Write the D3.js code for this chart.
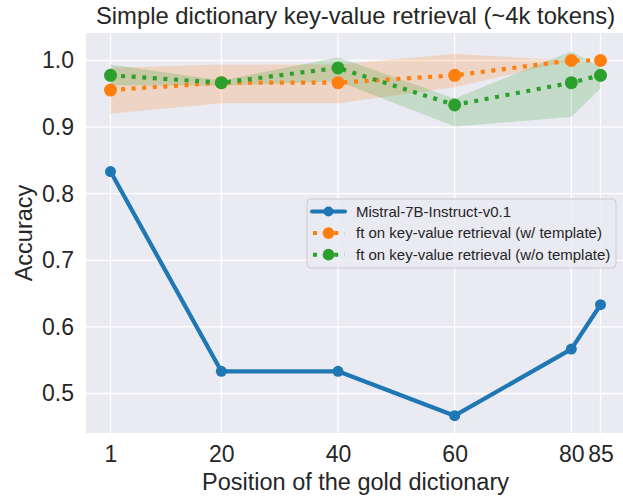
<!DOCTYPE html>
<html>
<head>
<meta charset="utf-8">
<script src="https://cdn.jsdelivr.net/npm/d3@7"></script>
<style>
  body { margin: 0; background: #fff; }
  text { font-family: "Liberation Sans", Arial, sans-serif; fill: #262626; }
</style>
</head>
<body>
<div id="main"></div>
<script>
const W = 623, H = 498;
const margin = {left: 86, top: 33, right: -2, bottom: 65};

// data
const positions = [1, 20, 40, 60, 80, 85];
const xTicks = [1, 20, 40, 60, 80, 85];
const yTicks = [0.5, 0.6, 0.7, 0.8, 0.9, 1.0];

const baseAcc = [0.8333, 0.5333, 0.5333, 0.4667, 0.5667, 0.6333];
const ftTplAcc = [0.9556, 0.9667, 0.9667, 0.9778, 1.0, 1.0];
const ftTplLow = [0.920, 0.936, 0.936, 0.960, 1.0, 1.0];
const ftTplHigh = [0.989, 0.994, 0.994, 1.010, 1.0, 1.0];
const ftNoTplAcc = [0.9778, 0.9667, 0.9889, 0.9333, 0.9667, 0.9778];
const ftNoTplLow = [0.963, 0.962, 0.969, 0.901, 0.915, 0.958];
const ftNoTplHigh = [0.994, 0.970, 1.005, 0.943, 1.014, 0.990];

const series = [
  {name: "Mistral-7B-Instruct-v0.1", color: "#1f77b4", acc: baseAcc, dash: null, r: 5.5},
  {name: "ft on key-value retrieval (w/ template)", color: "#ff7f0e", acc: ftTplAcc, lo: ftTplLow, hi: ftTplHigh, dash: "4,6.6", r: 6.5},
  {name: "ft on key-value retrieval (w/o template)", color: "#2ca02c", acc: ftNoTplAcc, lo: ftNoTplLow, hi: ftNoTplHigh, dash: "4,6.6", r: 6.5}
];

const svg = d3.select("#main").append("svg").attr("width", W).attr("height", H);

const x = d3.scaleLinear().domain([-3.2, 89.2]).range([margin.left, W - margin.right]);
const y = d3.scaleLinear().domain([0.4407, 1.0413]).range([H - margin.bottom, margin.top]);

svg.append("defs").append("clipPath").attr("id", "plotclip")
  .append("rect").attr("x", margin.left).attr("y", margin.top)
  .attr("width", W - margin.right - margin.left).attr("height", H - margin.bottom - margin.top);

// background
svg.append("rect")
  .attr("x", margin.left).attr("y", margin.top)
  .attr("width", W - margin.right - margin.left)
  .attr("height", H - margin.bottom - margin.top)
  .attr("fill", "#eaeaf2");

// grid
const grid = svg.append("g").attr("stroke", "#fff").attr("stroke-width", 1.3);
grid.selectAll("line.gx").data(xTicks).enter().append("line")
  .attr("x1", d => x(d)).attr("x2", d => x(d))
  .attr("y1", margin.top).attr("y2", H - margin.bottom);
grid.selectAll("line.gy").data(yTicks).enter().append("line")
  .attr("x1", margin.left).attr("x2", W - margin.right)
  .attr("y1", d => y(d)).attr("y2", d => y(d));

// tick labels
const xAxis = svg.append("g")
  .attr("transform", `translate(0,${H - margin.bottom})`)
  .call(d3.axisBottom(x).tickValues(xTicks).tickSize(0).tickPadding(13).tickFormat(d3.format("d")));
xAxis.select(".domain").remove();
xAxis.selectAll("text").style("font-size", "23px").attr("fill", "#262626");

const yAxis = svg.append("g")
  .attr("transform", `translate(${margin.left},0)`)
  .call(d3.axisLeft(y).tickValues(yTicks).tickSize(0).tickPadding(12).tickFormat(d3.format(".1f")));
yAxis.select(".domain").remove();
yAxis.selectAll("text").style("font-size", "23px").attr("fill", "#262626");

// axis titles
svg.append("text")
  .attr("x", (margin.left + W - margin.right) / 2).attr("y", 490)
  .attr("text-anchor", "middle").style("font-size", "23.5px")
  .text("Position of the gold dictionary");
svg.append("text")
  .attr("transform", `translate(32,${(margin.top + H - margin.bottom) / 2}) rotate(-90)`)
  .attr("text-anchor", "middle").style("font-size", "23.5px")
  .text("Accuracy");
svg.append("text")
  .attr("x", (margin.left + W - margin.right) / 2).attr("y", 23.5)
  .attr("text-anchor", "middle").style("font-size", "23.8px")
  .text("Simple dictionary key-value retrieval (~4k tokens)");

const plot = svg.append("g").attr("clip-path", "url(#plotclip)");

// bands
const area = d3.area()
  .x((d, i) => x(positions[i]))
  .y0(d => y(d[0]))
  .y1(d => y(d[1]));
series.filter(s => s.lo).forEach(s => {
  plot.append("path")
    .datum(s.lo.map((v, i) => [v, s.hi[i]]))
    .attr("d", area)
    .attr("fill", s.color).attr("fill-opacity", 0.2);
});

// lines and markers
const line = d3.line().x((d, i) => x(positions[i])).y(d => y(d));
series.forEach(s => {
  plot.append("path")
    .datum(s.acc)
    .attr("d", line)
    .attr("fill", "none")
    .attr("stroke", s.color)
    .attr("stroke-width", 4.2)
    .attr("stroke-dasharray", s.dash)
    .attr("stroke-linejoin", "round")
    .attr("stroke-linecap", s.dash ? "butt" : "round");
  plot.selectAll(null).data(s.acc).enter().append("circle")
    .attr("cx", (d, i) => x(positions[i]))
    .attr("cy", d => y(d))
    .attr("r", s.r)
    .attr("fill", s.color);
});

// legend
const lg = svg.append("g").attr("transform", "translate(307,199)");
lg.append("rect")
  .attr("width", 309).attr("height", 69).attr("rx", 4)
  .attr("fill", "#eaeaf2").attr("fill-opacity", 0.8)
  .attr("stroke", "#cccccc").attr("stroke-width", 1);
series.forEach((s, i) => {
  const ry = 12.5 + i * 21.6;
  lg.append("line")
    .attr("x1", 5).attr("x2", 38).attr("y1", ry).attr("y2", ry)
    .attr("stroke", s.color).attr("stroke-width", 4)
    .attr("stroke-dasharray", s.dash ? "4,6.6" : null)
    .attr("stroke-dashoffset", s.dash ? -1 : 0)
    .attr("stroke-linecap", s.dash ? "butt" : "round");
  lg.append("circle").attr("cx", 21.5).attr("cy", ry).attr("r", s.r * 0.9).attr("fill", s.color);
  lg.append("text")
    .attr("x", 49).attr("y", ry).attr("dy", "0.35em")
    .style("font-size", "15px")
    .text(s.name);
});
</script>
</body>
</html>
